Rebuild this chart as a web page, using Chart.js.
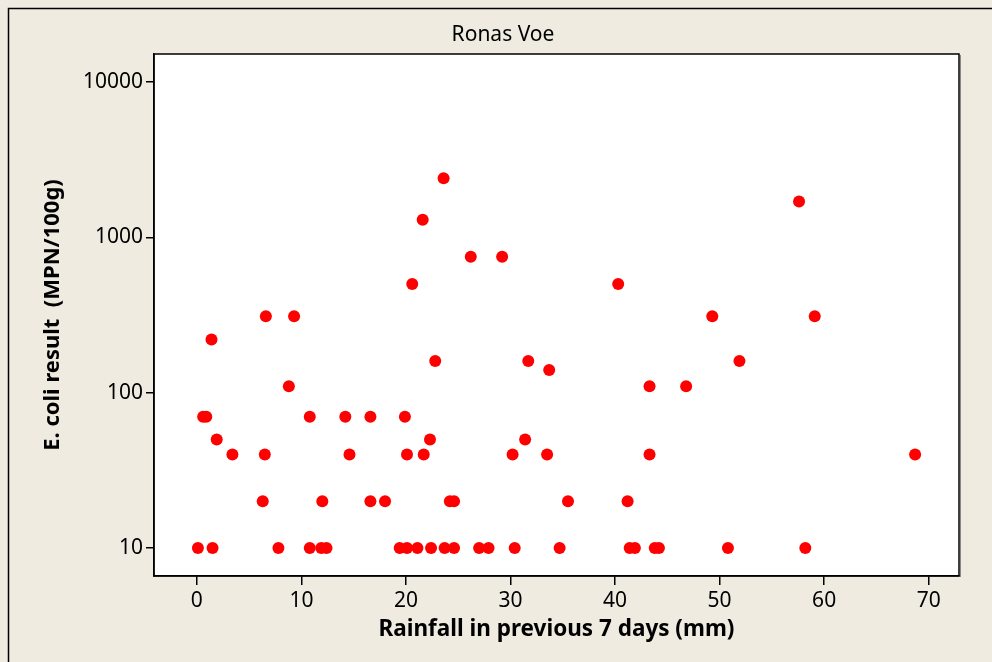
<!DOCTYPE html>
<html>
<head>
<meta charset="utf-8">
<script src="https://cdn.jsdelivr.net/npm/chart.js@4.4.0/dist/chart.umd.min.js"></script>
<style>
  html, body { margin: 0; padding: 0; background: #EFEBE1; }
  #wrap { width: 992px; height: 662px; }
</style>
</head>
<body>
<div id="wrap"><canvas id="myChart" width="992" height="662"></canvas></div>
<script>
// Ronas Voe - E. coli vs rainfall in previous 7 days
const chartTitle = "Ronas Voe";
const xTitle = "Rainfall in previous 7 days (mm)";
const yTitle = "E. coli result  (MPN/100g)";

// rainfall (mm), grouped by E. coli result
const rain10 = [0.1, 1.5, 7.8, 10.8, 11.9, 12.4, 19.4, 20.1, 21.1, 22.4, 23.7, 24.6, 27.0, 27.9, 30.4, 34.7, 41.4, 41.9, 43.8, 44.2, 50.8, 58.2];
const rain20 = [6.3, 12.0, 16.6, 18.0, 24.2, 24.6, 35.5, 41.2];
const rain40 = [3.4, 6.5, 14.6, 20.1, 21.7, 30.2, 33.5, 43.3, 68.7];
const rain50 = [1.9, 22.3, 31.4];
const rain70 = [0.6, 0.9, 10.8, 14.2, 16.6, 19.9];
const rain110 = [8.8, 43.3, 46.8];
const rain140 = [33.7];
const rain160 = [22.8, 31.7, 51.9];
const rain220 = [1.4];
const rain310 = [6.6, 9.3, 49.3, 59.1];
const rain500 = [20.6, 40.3];
const rain750 = [26.2, 29.2];
const rain1300 = [21.6];
const rain1700 = [57.6];
const rain2400 = [23.6];

const ecoliLevels = [10, 20, 40, 50, 70, 110, 140, 160, 220, 310, 500, 750, 1300, 1700, 2400];
const rainByLevel = [rain10, rain20, rain40, rain50, rain70, rain110, rain140, rain160, rain220, rain310, rain500, rain750, rain1300, rain1700, rain2400];

const xTicks = [0, 10, 20, 30, 40, 50, 60, 70];
const yTicks = [10, 100, 1000, 10000];

const points = [];
ecoliLevels.forEach((lvl, i) => {
  rainByLevel[i].forEach(r => points.push({ x: r, y: lvl }));
});

Chart.defaults.font.family = "'Noto Sans', sans-serif";
Chart.defaults.color = "#000";

// beige frame + white plot box
const framePlugin = {
  id: "frame",
  beforeDraw(chart) {
    const c = chart.ctx, a = chart.chartArea;
    c.save();
    c.fillStyle = "#EFEBE1";
    c.fillRect(0, 0, chart.width, chart.height);
    c.strokeStyle = "#000";
    c.lineWidth = 1.5;
    c.strokeRect(8.5, 8.5, chart.width + 20, chart.height + 20);
    c.fillStyle = "#fff";
    c.fillRect(a.left, a.top, a.right - a.left, a.bottom - a.top);
    c.restore();
  },
  afterDraw(chart) {
    const c = chart.ctx, a = chart.chartArea;
    c.save();
    c.strokeStyle = "#000";
    c.lineWidth = 1.5;
    c.strokeRect(a.left, a.top, a.right - a.left, a.bottom - a.top);
    c.strokeStyle = "#888";
    c.lineWidth = 1;
    c.beginPath();
    c.moveTo(a.right + 1.5, a.top + 1);
    c.lineTo(a.right + 1.5, a.bottom + 1);
    c.stroke();
    c.restore();
  }
};

const padLeft = 47;

const ctx = document.getElementById("myChart").getContext("2d");
new Chart(ctx, {
  type: "scatter",
  data: {
    datasets: [
      {
        label: "E. coli",
        data: points,
        backgroundColor: "#FF0000",
        borderWidth: 0,
        pointRadius: 6,
        pointHoverRadius: 6,
      },
    ],
  },
  options: {
    responsive: false,
    animation: false,
    layout: { padding: { left: padLeft, right: 33, top: 0, bottom: 0 } },
    plugins: {
      legend: { display: false },
      tooltip: { enabled: false },
      title: {
        display: true,
        text: chartTitle,
        font: { size: 21, weight: "normal" },
        color: "#000",
        padding: { top: 22.4, bottom: 6.4 },
      },
    },
    scales: {
      x: {
        type: "linear",
        min: -4.1,
        max: 72.9,
        afterBuildTicks: (s) => { s.ticks = xTicks.map(v => ({ value: v })); },
        afterFit: (s) => { s.height = 86; },
        grid: { display: true, drawOnChartArea: false, drawTicks: true, tickLength: 9, color: "#000", lineWidth: 1.5 },
        border: { display: true, color: "#000", width: 1.5 },
        ticks: { font: { size: 21 }, padding: 3, callback: (v) => String(v), maxRotation: 0 },
        title: {
          display: true,
          text: xTitle,
          font: { size: 22.5, weight: "bold" },
          padding: { top: 0, bottom: 18.5 },
        },
      },
      y: {
        type: "logarithmic",
        min: 6.6,
        max: 15150,
        afterBuildTicks: (s) => { s.ticks = yTicks.map(v => ({ value: v })); },
        afterFit: (s) => { s.width = 154 - padLeft; },
        grid: { display: true, drawOnChartArea: false, drawTicks: true, tickLength: 8, color: "#000", lineWidth: 1.5 },
        border: { display: true, color: "#000", width: 1.5 },
        ticks: { font: { size: 21 }, padding: 3, callback: (v) => String(v) },
        title: {
          display: true,
          text: yTitle,
          font: { size: 22, weight: "bold" },
          padding: { top: -7.2, bottom: 0 },
        },
      },
    },
  },
  plugins: [framePlugin],
});
</script>
</body>
</html>
